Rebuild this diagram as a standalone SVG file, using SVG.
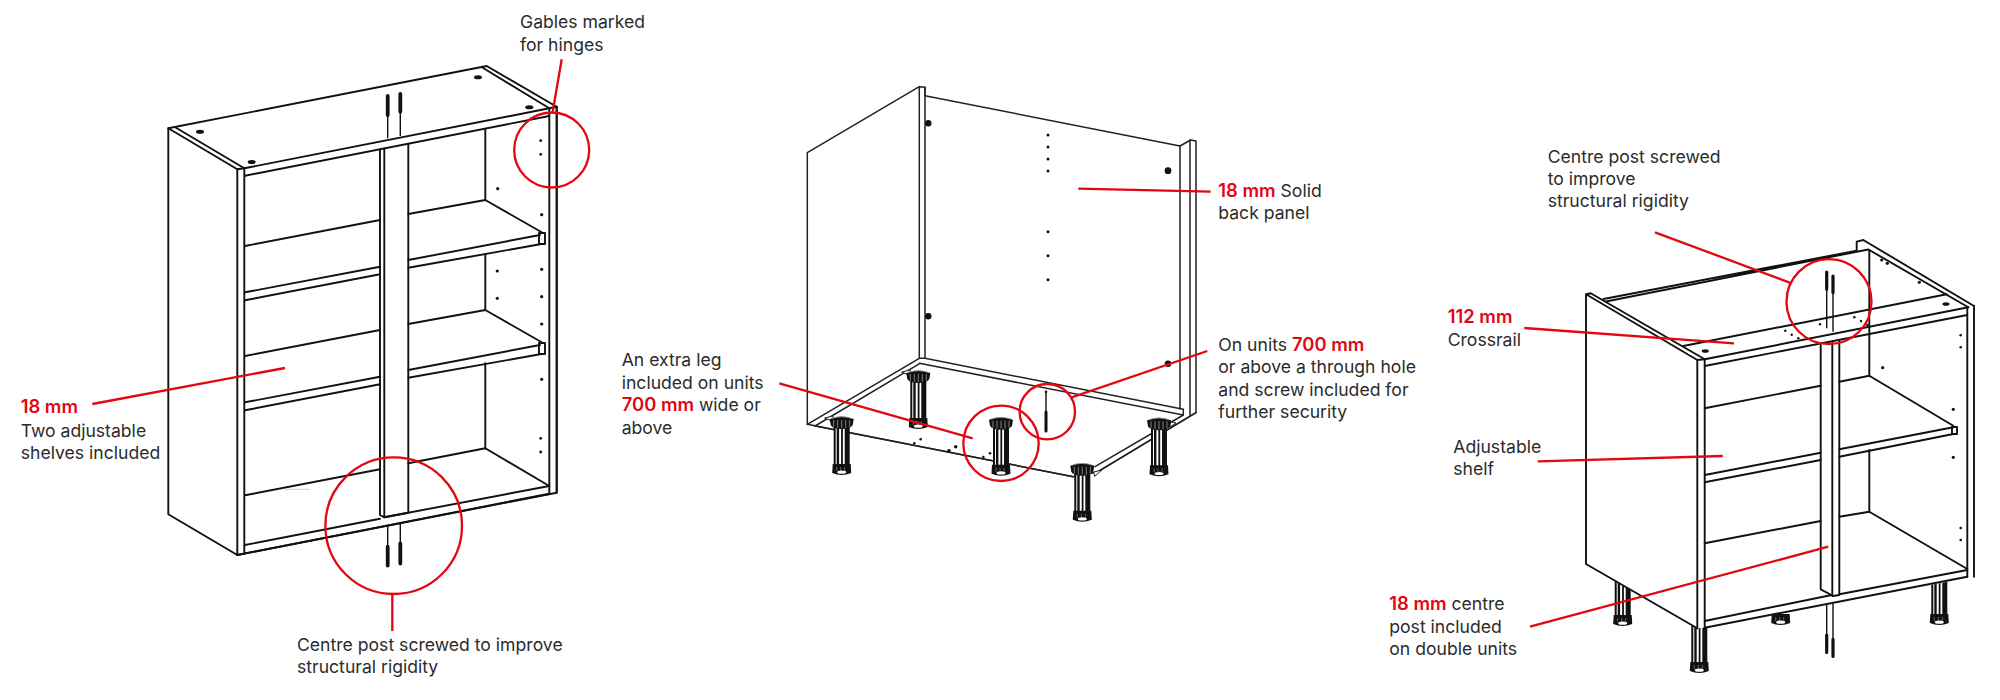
<svg xmlns="http://www.w3.org/2000/svg" width="2000" height="700" viewBox="0 0 2000 700">
<style>
text{font-family:"Inter","Liberation Sans",sans-serif;font-size:17.6px;fill:#2b2b2b}
.r{fill:#e30613;font-weight:600;font-size:18.4px}
.k path,.k line{fill:none;stroke:#111;stroke-width:1.9;stroke-linejoin:round;stroke-linecap:round}
.k2 path,.k2 line{fill:none;stroke:#222;stroke-width:1.5;stroke-linejoin:round;stroke-linecap:round}
#connectors path,#connectors circle{fill:none;stroke:#e30613;stroke-width:2.3}
.d{fill:#111}
.k path.th,.k2 path.th{stroke:#111;stroke-width:1.4;stroke-linecap:butt}
.k path.tk{stroke:#111;stroke-width:3.8;stroke-linecap:round}
.k2 path.tk{stroke:#111;stroke-width:3;stroke-linecap:round}
.k2 path.w{fill:#fff;stroke:#222;stroke-width:1}
</style>
<defs>
<g id="legbody">
<rect x="-8" y="0" width="16" height="40" fill="#111"/>
<rect x="-2.6" y="0" width="2" height="40" fill="#fff"/>
<rect x="1.2" y="0" width="1.8" height="40" fill="#fff"/>
<rect x="-6" y="0" width="1" height="40" fill="#fff"/>
</g>
<g id="foot">
<path d="M-9 0H9L9.500 9Q0 13 -9.500 9Z" fill="#111"/>
<path d="M-5 3V7M-1 3V7M3 3V7" stroke="#777" stroke-width=".8" fill="none"/>
<ellipse cx="0" cy="8.200" rx="4.500" ry="1.600" fill="#fff"/>
</g>
<g id="leg">
<use href="#legbody" y="10"/>
<path d="M-12 3Q0 -2 12 3L11 9Q9 13 0 13Q-9 13 -11 9Z" fill="#111"/>
<path d="M-8 4V11M-4 4V12M0 4V12M4 4V12M8 4V11" stroke="#999" stroke-width=".8" fill="none"/>
<path d="M-10 2.400Q0 -1 10 2.400" stroke="#999" stroke-width=".9" fill="none"/>
<use href="#foot" y="48"/>
</g>
</defs>
<rect width="2000" height="700" fill="#fff"/>

<g id="wall-unit" class="k">
<path d="M168.300 128.300L486.700 66L556.700 106.700V492.700L237.300 555L168.300 514.300Z" fill="#fff"/>
<path d="M168.300 128.300L237.300 169.300L244.300 168.300L549.300 108.300"/>
<path d="M176 127.700L244.300 168.300M482.700 67.700L549.300 108.300L556.700 106.700"/>
<path d="M237.300 169.300V555M244.300 168.300V552.500M549.300 108.300V493.700M556.700 106.700V492.700"/>
<path d="M245 175.700L549.300 116"/>
<path d="M237.300 555L549.300 493.700M245 545L380 518.700M384.300 517.300L549.300 486"/>
<path d="M380 149.300V515L384.300 517.300L408.300 512.700V144.300M384.300 148.500V517.300"/>
<path d="M485.300 129.300V200M485.300 254V310M485.300 363.300V448.300"/>
<path d="M245 246L380 220M408.300 214L485.300 200L541.700 232.300"/>
<path d="M245 292.300L380 266.700M408.300 260L540 235M245 300.300L380 274.300M408.300 267.700L540 244.300"/>
<path d="M539 233H545V244H539Z"/>
<path d="M245 356L380 330M408.300 324L485.300 310L541.700 342.300"/>
<path d="M245 402.300L380 376.700M408.300 370L540 345M245 410.300L380 384.300M408.300 377.700L540 354.300"/>
<path d="M539 343H545V354H539Z"/>
<path d="M245 495.300L380 469.300M408.300 463.300L485.300 448.300L549.300 486"/>
<line x1="285" y1="489.300" x2="309" y2="489.300" style="stroke:#ccc;stroke-width:1"/>
<ellipse class="d" cx="200" cy="131.700" rx="4" ry="2"/><ellipse class="d" cx="251.700" cy="162" rx="4" ry="2"/><ellipse class="d" cx="478" cy="77.300" rx="4" ry="2"/><ellipse class="d" cx="529.300" cy="107.300" rx="4" ry="2"/>
<g class="d"><circle cx="540.700" cy="140.700" r="1.400"/><circle cx="540.700" cy="154.300" r="1.400"/><circle cx="497.700" cy="188.700" r="1.600"/><circle cx="541.700" cy="214.700" r="1.600"/><circle cx="497.300" cy="271" r="1.600"/><circle cx="541.700" cy="269.300" r="1.600"/><circle cx="497.300" cy="298.300" r="1.600"/><circle cx="541.700" cy="296.700" r="1.600"/><circle cx="541.700" cy="324" r="1.600"/><circle cx="541.700" cy="379.300" r="1.600"/><circle cx="540.700" cy="438.300" r="1.400"/><circle cx="540.700" cy="452" r="1.400"/></g>
<path class="th" d="M387.700 115V138.300M400.300 111.700V136M387.700 525.700V546.700M400.300 523.300V543.300"/>
<path class="tk" d="M387.700 96V115M400.300 94V111.700M387.700 546.700V565.500M400.300 543.300V563.500"/>
</g>

<g id="base-unit" class="k2">
<path d="M807.300 152.700L919.300 86.700L925 87.300V95.700L1180 146L1190.700 140L1196 141V412.700L1098 471.700L1073.300 476.700L807.300 424.300Z" fill="#fff"/>
<path d="M919.300 86.700V358.300M925 87.300V358.300M1180 146V409M1190 140V416"/>
<path d="M807.300 424.300L919.300 358.300H925L1183.300 409.300V415M919.300 363.300L1183.300 415M815 426L920 363.300"/>
<path d="M815 426L1073.300 476.700M1183.300 415L1095 466.700M1196 412.700L1098 471.700"/>
<g class="d"><circle cx="1048" cy="135" r="1.500"/><circle cx="1048" cy="147" r="1.500"/><circle cx="1048" cy="159" r="1.500"/><circle cx="1048" cy="171" r="1.500"/><circle cx="1048" cy="231.700" r="1.500"/><circle cx="1048" cy="255.700" r="1.500"/><circle cx="1048" cy="279.700" r="1.500"/>
<circle cx="928.300" cy="123.300" r="3.200"/><circle cx="928.300" cy="316.300" r="3.200"/><circle cx="1168" cy="170.700" r="3.400"/><circle cx="1168" cy="363.700" r="3.200"/>
<circle cx="914.300" cy="443.300" r="1.300"/><circle cx="920.700" cy="439.300" r="1.300"/><circle cx="949" cy="450.700" r="1.800"/><circle cx="955.700" cy="446.700" r="1.800"/><circle cx="983.300" cy="457" r="1.300"/><circle cx="990" cy="453.300" r="1.300"/></g>
<path class="w" d="M825 418L833 416V421ZM902 372L910 370V375ZM1094 472L1102 470L1095 476ZM1171 422L1176 423L1170 427Z"/>
<use href="#leg" x="841.700" y="416"/><use href="#leg" x="918.300" y="370"/><use href="#leg" x="1001" y="416.700"/><use href="#leg" x="1082.300" y="462.700"/><use href="#leg" x="1159" y="417.300"/>
<path class="th" d="M1046 391.700V411.700"/><path class="tk" d="M1046 412V431"/>
<circle class="d" cx="1046" cy="391.700" r="1.300"/>
</g>

<g id="double-unit" class="k">
<use href="#legbody" x="1622.700" y="580"/><use href="#foot" x="1622.700" y="615"/>
<use href="#legbody" x="1699.300" y="626"/><use href="#foot" x="1699.300" y="662"/>
<use href="#foot" x="1780.700" y="614"/>
<use href="#legbody" x="1939.300" y="582"/><use href="#foot" x="1939.300" y="614"/>
<polygon points="1586,294.300 1590.700,293.300 1702.700,358.300 1856.700,329 1856.700,241.700 1863.300,240 1974,306 1974,576.700 1704.700,627.700 1697.300,628.300 1586,564" fill="#fff"/>
<path d="M1586 294.300L1590.700 293.300L1704.700 359.300L1697.300 360L1586 294.300ZM1586 294.300V564L1697.300 628.300"/>
<path d="M1697.300 360V628.300M1704.700 359.300V627.700"/>
<path d="M1603.500 299L1856.700 250.700M1606 301.500L1868.300 249.500"/>
<path d="M1856.700 241.700V250.700M1856.700 241.700L1863.300 240L1974 306M1869.300 250L1968.300 307.300"/>
<path d="M1967.300 307.300V576.700M1974 306V576.700"/>
<path d="M1704.700 359.300L1968.300 307.300M1704.700 366L1967.300 315"/>
<path d="M1683.300 346L1946.700 294.300"/>
<path d="M1820.700 345V589.300L1833.300 596L1839.300 595V341M1832.300 343V596"/>
<path d="M1869.300 250V375.700M1869.300 450V511.700"/>
<path d="M1704.700 408.300L1820.700 385.700M1839.300 381.700L1869.300 375.700L1953.300 425.700"/>
<path d="M1704.700 475L1820.700 452.700M1839.300 449.300L1953.300 427.300M1704.700 482.300L1820.700 460M1839.300 456.700L1953.300 434"/>
<path d="M1952 427H1957V434H1952Z"/>
<path d="M1704.700 543.300L1820.700 521M1839.300 516.700L1869.300 511.700L1967.300 569"/>
<path d="M1704.700 621L1831.700 595M1839.300 594.300L1967.300 570M1704.700 627.700L1967.300 576.700"/>
<ellipse class="d" cx="1705.300" cy="351" rx="3.600" ry="1.800"/><ellipse class="d" cx="1946" cy="304" rx="3.600" ry="1.800"/>
<g class="d"><circle cx="1881.700" cy="260" r="1.600"/><circle cx="1887.300" cy="263.300" r="1.600"/><circle cx="1919.300" cy="282.300" r="1.600"/><circle cx="1960.700" cy="335.300" r="1.300"/><circle cx="1960.700" cy="347.300" r="1.300"/><circle cx="1882.700" cy="367.700" r="1.600"/><circle cx="1953.300" cy="409.300" r="1.600"/><circle cx="1953.300" cy="457.300" r="1.600"/><circle cx="1960.700" cy="528" r="1.300"/><circle cx="1960.700" cy="540" r="1.300"/>
<circle cx="1785.300" cy="330.700" r="1.200"/><circle cx="1791.700" cy="334.700" r="1.200"/><circle cx="1798.300" cy="338.300" r="1.200"/><circle cx="1820" cy="324.300" r="1.200"/><circle cx="1854.300" cy="317.300" r="1.200"/><circle cx="1861" cy="321" r="1.200"/><circle cx="1867.300" cy="325" r="1.200"/></g>
<path class="th" d="M1826.700 289.300V328.300M1833 292.700V331.700M1826.700 605V635M1833 603.300V639.300"/>
<path class="tk" d="M1826.700 272V289.300M1833 276V292.700M1826.700 635V652.500M1833 639.300V656.500" style="stroke-width:3.200"/>
</g>

<g id="connectors">
<circle cx="551.700" cy="150" r="37.500"/>
<circle cx="393.700" cy="525.700" r="68.300"/>
<path d="M561.700 59.300L552.700 111.700"/>
<path d="M92.300 404L285 368"/>
<path d="M392.300 593.300V631"/>
<circle cx="1001" cy="443.300" r="37.700"/>
<circle cx="1047.300" cy="411.700" r="27.700"/>
<path d="M779.300 383.300L972.700 438.300"/>
<path d="M1071.700 397.300L1207.300 351"/>
<path d="M1078.300 188.700L1210.700 191.700"/>
<circle cx="1829" cy="301.700" r="42.500"/>
<path d="M1655 232.300L1791.700 283.300"/>
<path d="M1524.300 328L1734 343.300"/>
<path d="M1537.700 461.300L1722.700 456"/>
<path d="M1530 626.700L1828.300 546.700"/>
</g>

<g id="labels">
<g id="l-gables"><text x="520" y="28.300">Gables marked</text><text x="520" y="50.700">for hinges</text></g>
<g id="l-shelves"><text class="r" x="20.700" y="413.300">18 mm</text><text x="20.700" y="436.700">Two adjustable</text><text x="20.700" y="459">shelves included</text></g>
<g id="l-post1"><text x="297" y="651">Centre post screwed to improve</text><text x="297" y="673.300">structural rigidity</text></g>
<g id="l-leg"><text x="621.700" y="366">An extra leg</text><text x="621.700" y="389">included on units</text><text x="621.700" y="411.300"><tspan class="r">700 mm</tspan> wide or</text><text x="621.700" y="433.700">above</text></g>
<g id="l-back"><text x="1218.300" y="197"><tspan class="r">18 mm</tspan> Solid</text><text x="1218.300" y="219.300">back panel</text></g>
<g id="l-hole"><text x="1218.300" y="351">On units <tspan class="r">700 mm</tspan></text><text x="1218.300" y="373.300">or above a through hole</text><text x="1218.300" y="396">and screw included for</text><text x="1218.300" y="418.300">further security</text></g>
<g id="l-post2"><text x="1547.700" y="162.700">Centre post screwed</text><text x="1547.700" y="185">to improve</text><text x="1547.700" y="207.300">structural rigidity</text></g>
<g id="l-rail"><text class="r" x="1447.700" y="323.300">112 mm</text><text x="1447.700" y="346">Crossrail</text></g>
<g id="l-shelf"><text x="1453.300" y="452.700">Adjustable</text><text x="1453.300" y="475">shelf</text></g>
<g id="l-post3"><text x="1389.300" y="610"><tspan class="r">18 mm</tspan> centre</text><text x="1389.300" y="632.700">post included</text><text x="1389.300" y="655">on double units</text></g>
</g>
</svg>
